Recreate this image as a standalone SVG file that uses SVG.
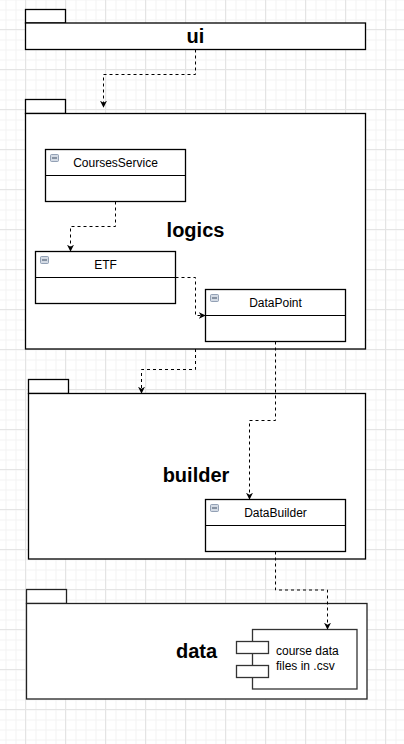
<svg xmlns="http://www.w3.org/2000/svg" width="404" height="744" viewBox="0 0 404 744">
<defs>
<pattern id="minor" x="5.5" y="9.5" width="10" height="10" patternUnits="userSpaceOnUse">
<path d="M0 0.5H10M0.5 0V10" fill="none" stroke="#f3f3f3" stroke-width="1"/>
</pattern>
<pattern id="major" x="25" y="29" width="40" height="40" patternUnits="userSpaceOnUse">
<path d="M0 0.5H40M0.5 0V40" fill="none" stroke="#e4e4e4" stroke-width="1"/>
</pattern>
<marker id="arr" viewBox="0 0 10 10" refX="9" refY="5" markerWidth="7" markerHeight="7" orient="auto" markerUnits="userSpaceOnUse">
<path d="M0 0L10 5L0 10L3 5Z" fill="#000"/>
</marker>
</defs>
<style>
.box{fill:#fff;stroke:#000;stroke-width:1.3}
.line{fill:none;stroke:#000;stroke-width:1}
.dep{fill:none;stroke:#000;stroke-width:1;stroke-dasharray:3 3}
.pkg{font-family:"Liberation Sans",Arial,sans-serif;font-size:20px;font-weight:bold;text-anchor:middle;fill:#000}
.cls{font-family:"Liberation Sans",Arial,sans-serif;font-size:12px;text-anchor:middle;fill:#000}
.txt{font-family:"Liberation Sans",Arial,sans-serif;font-size:12px;fill:#000}
.ico{fill:#d3dae4;stroke:#7c8ea6;stroke-width:0.8}
.icol{stroke:#3a4a60;stroke-width:1}
</style>
<rect width="404" height="744" fill="#fff"/>
<rect width="404" height="744" fill="url(#minor)"/>
<rect width="404" height="744" fill="url(#major)"/>

<g id="pkg-ui">
<rect class="box" x="25.5" y="9.5" width="40" height="13.5"/>
<rect class="box" x="25.5" y="23" width="340" height="26.5"/>
<text class="pkg" x="195.5" y="43">ui</text>
</g>

<g id="pkg-logics">
<rect class="box" x="25.5" y="99.5" width="40" height="14"/>
<rect class="box" x="25.5" y="113.5" width="340" height="235.5"/>
<text class="pkg" x="195.5" y="237">logics</text>
</g>

<g id="pkg-builder">
<rect class="box" x="28.5" y="379.5" width="40" height="14"/>
<rect class="box" x="28.5" y="393.5" width="337" height="165.5"/>
<text class="pkg" x="196" y="482">builder</text>
</g>

<g id="pkg-data">
<rect class="box" x="26.5" y="589.5" width="40" height="14" style="stroke:#222"/>
<rect class="box" x="26.5" y="603.5" width="340.5" height="95.5" style="stroke:#222"/>
<text class="pkg" x="196.5" y="658">data</text>
</g>

<g id="cls-coursesservice">
<rect class="box" x="45.5" y="149.5" width="140" height="52"/>
<line class="line" x1="45.5" y1="175.5" x2="185.5" y2="175.5"/>
<rect class="ico" x="50.5" y="154.5" width="8" height="7" rx="1"/>
<line class="icol" x1="52" y1="158" x2="57" y2="158"/>
<text class="cls" x="115.5" y="167">CoursesService</text>
</g>

<g id="cls-etf">
<rect class="box" x="35.5" y="251.5" width="140" height="52"/>
<line class="line" x1="35.5" y1="277.5" x2="175.5" y2="277.5"/>
<rect class="ico" x="40.5" y="256.5" width="8" height="7" rx="1"/>
<line class="icol" x1="42" y1="260" x2="47" y2="260"/>
<text class="cls" x="105.5" y="269">ETF</text>
</g>

<g id="cls-datapoint">
<rect class="box" x="205.5" y="289.5" width="140" height="52"/>
<line class="line" x1="205.5" y1="315.5" x2="345.5" y2="315.5"/>
<rect class="ico" x="210.5" y="294.5" width="8" height="7" rx="1"/>
<line class="icol" x1="212" y1="298" x2="217" y2="298"/>
<text class="cls" x="275.5" y="307">DataPoint</text>
</g>

<g id="cls-databuilder">
<rect class="box" x="205.5" y="499.5" width="140" height="52"/>
<line class="line" x1="205.5" y1="525.5" x2="345.5" y2="525.5"/>
<rect class="ico" x="210.5" y="504.5" width="8" height="7" rx="1"/>
<line class="icol" x1="212" y1="508" x2="217" y2="508"/>
<text class="cls" x="275.5" y="517">DataBuilder</text>
</g>

<g id="comp-csv">
<rect class="box" x="252.5" y="629.5" width="104.5" height="59.5" style="stroke:#333"/>
<rect class="box" x="236.5" y="641.5" width="32" height="12" style="stroke:#333"/>
<rect class="box" x="236.5" y="665.5" width="32" height="12" style="stroke:#333"/>
<text class="txt" x="276" y="655">course data</text>
<text class="txt" x="276" y="670">files in .csv</text>
</g>

<g id="connectors">
<path class="dep" d="M195.5 49.5V74.5H103.5V107" marker-end="url(#arr)"/>
<path class="dep" d="M115.5 201.5V226.5H70.5V251" marker-end="url(#arr)"/>
<path class="dep" d="M175.5 277.5H195.5V315.5H205" marker-end="url(#arr)"/>
<path class="dep" d="M195.5 349V369.5H141.5V393" marker-end="url(#arr)"/>
<path class="dep" d="M275.5 341.5V420.5H249.5V499" marker-end="url(#arr)"/>
<path class="dep" d="M275.5 551.5V590H327.5V629" marker-end="url(#arr)"/>
</g>
</svg>
